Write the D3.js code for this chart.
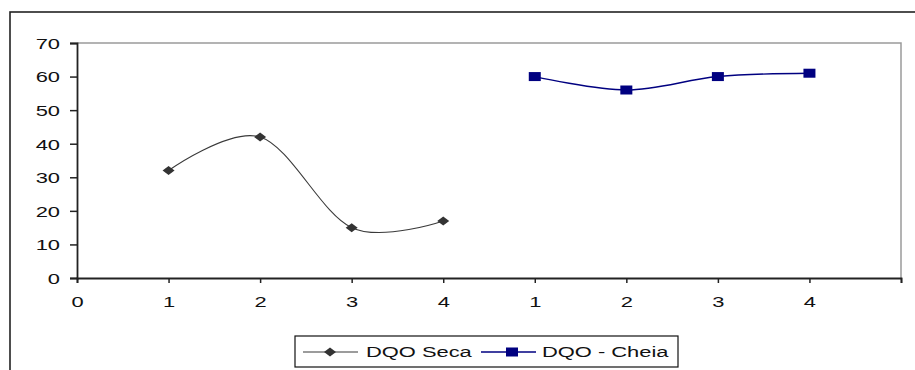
<!DOCTYPE html>
<html>
<head>
<meta charset="utf-8">
<script src="https://cdn.jsdelivr.net/npm/d3@7/dist/d3.min.js"></script>
<style>
  html, body { margin: 0; padding: 0; background: #fff; }
  svg { display: block; }
  text { font-family: "Liberation Sans", Arial, sans-serif; font-size: 15px; fill: #111; }
</style>
</head>
<body>
<svg id="chart" width="915" height="370"></svg>
<script>
// Sample numbering shown under each point (two campaigns, four samples each)
const xTickLabels = ["0", "1", "2", "3", "4", "1", "2", "3", "4", ""];
const yTicks = [0, 10, 20, 30, 40, 50, 60, 70];

// DQO - dry season (samples 1..4) and wet season (samples 1..4)
const secaName = "DQO Seca";
const secaPositions = [1, 2, 3, 4];
const secaValues = [32, 42, 15, 17];

const cheiaName = "DQO - Cheia";
const cheiaPositions = [5, 6, 7, 8];
const cheiaValues = [60, 56, 60, 61];

const svg = d3.select("#chart");
const SX = 1.46; // wide text rendering

const plot = { left: 77, right: 901, top: 43, bottom: 278 };
const x = d3.scaleLinear().domain([0, 9]).range([plot.left, plot.right]);
const y = d3.scaleLinear().domain([0, 70]).range([plot.bottom, plot.top]);

// outer chart frame (runs past the right and bottom edges)
svg.append("rect")
  .attr("x", 10).attr("y", 12)
  .attr("width", 930).attr("height", 400)
  .attr("fill", "#fff").attr("stroke", "#222").attr("stroke-width", 1.6);

// plot area frame: top and right sides in grey
svg.append("path")
  .attr("d", `M${plot.left},${plot.top}H${plot.right}V${plot.bottom}`)
  .attr("fill", "none").attr("stroke", "#9a9a9a").attr("stroke-width", 1.5);

// y axis
const yAxis = svg.append("g")
  .attr("transform", `translate(${plot.left},0)`)
  .call(d3.axisLeft(y).tickValues(yTicks).tickSize(7).tickFormat(d3.format("d")));
yAxis.selectAll("text")
  .attr("x", null).attr("dy", "0.36em")
  .attr("text-anchor", "end")
  .attr("transform", `translate(-17,0) scale(${SX},1)`);

// x axis
const xAxis = svg.append("g")
  .attr("transform", `translate(0,${plot.bottom})`)
  .call(d3.axisBottom(x).tickValues(d3.range(xTickLabels.length)).tickSize(5)
    .tickFormat((d, i) => xTickLabels[i]));
xAxis.selectAll("text")
  .attr("y", null).attr("dy", "0.36em")
  .attr("text-anchor", "middle")
  .attr("transform", `translate(0,24) scale(${SX},1)`);

svg.selectAll(".domain").attr("stroke", "#222").attr("stroke-width", 1.8);
svg.selectAll(".tick line").attr("stroke", "#222").attr("stroke-width", 1.5);
svg.selectAll(".tick text").attr("fill", "#111");

// smoothed lines
const line = d3.line()
  .x(d => x(d[0])).y(d => y(d[1]))
  .curve(d3.curveCatmullRom.alpha(0));

const secaPts = secaPositions.map((p, i) => [p, secaValues[i]]);
const cheiaPts = cheiaPositions.map((p, i) => [p, cheiaValues[i]]);

svg.append("path").datum(secaPts).attr("d", line)
  .attr("fill", "none").attr("stroke", "#3a3a3a").attr("stroke-width", 1.1);
svg.append("path").datum(cheiaPts).attr("d", line)
  .attr("fill", "none").attr("stroke", "#000080").attr("stroke-width", 1.4);

// markers
const diamond = (w, h) => `M0,${-h / 2}L${w / 2},0L0,${h / 2}L${-w / 2},0Z`;
const secaColor = "#333", cheiaColor = "#000080";

svg.append("g").selectAll("path").data(secaPts).join("path")
  .attr("transform", d => `translate(${x(d[0])},${y(d[1])})`)
  .attr("d", diamond(12, 9)).attr("fill", secaColor);

svg.append("g").selectAll("rect").data(cheiaPts).join("rect")
  .attr("x", d => x(d[0]) - 6).attr("y", d => y(d[1]) - 4.5)
  .attr("width", 12).attr("height", 9).attr("fill", cheiaColor);

// legend
const lg = svg.append("g");
lg.append("rect").attr("x", 295).attr("y", 336).attr("width", 383).attr("height", 31)
  .attr("fill", "#fff").attr("stroke", "#111").attr("stroke-width", 1.2);
const ly = 352;
lg.append("line").attr("x1", 303).attr("x2", 358).attr("y1", ly).attr("y2", ly)
  .attr("stroke", "#3a3a3a").attr("stroke-width", 1.1);
lg.append("path").attr("transform", `translate(330,${ly})`).attr("d", diamond(12, 9)).attr("fill", secaColor);
lg.append("text").attr("transform", `translate(366,${ly}) scale(${SX},1)`)
  .attr("dy", "0.36em").text(secaName);

lg.append("line").attr("x1", 481).attr("x2", 536).attr("y1", ly).attr("y2", ly)
  .attr("stroke", cheiaColor).attr("stroke-width", 1.4);
lg.append("rect").attr("x", 506).attr("y", ly - 4.5).attr("width", 12).attr("height", 9).attr("fill", cheiaColor);
lg.append("text").attr("transform", `translate(542,${ly}) scale(${SX},1)`)
  .attr("dy", "0.36em").text(cheiaName);
</script>
</body>
</html>
